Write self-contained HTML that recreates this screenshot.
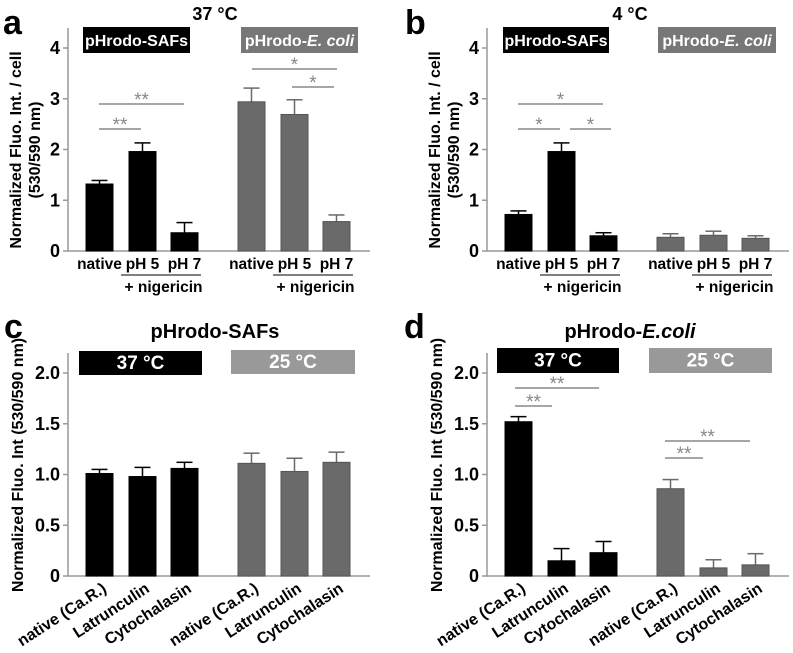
<!DOCTYPE html>
<html><head><meta charset="utf-8"><style>
body{margin:0;background:#fff}
svg{display:block;font-family:"Liberation Sans",sans-serif;font-weight:bold}
</style></head><body>
<svg id="fig" width="793" height="653" viewBox="0 0 793 653"></svg>
<script>
const catsA=["native","pH 5","pH 7","native","pH 5","pH 7"];
const valsA=[1.32,1.96,0.36,2.94,2.69,0.58];
const errsA=[0.07,0.17,0.20,0.27,0.29,0.13];
const valsB=[0.72,1.96,0.30,0.27,0.31,0.25];
const errsB=[0.07,0.17,0.06,0.07,0.08,0.05];
const catsC=["native (Ca.R.)","Latrunculin","Cytochalasin","native (Ca.R.)","Latrunculin","Cytochalasin"];
const valsC=[1.01,0.98,1.06,1.11,1.03,1.12];
const errsC=[0.04,0.09,0.06,0.10,0.13,0.10];
const valsD=[1.52,0.15,0.23,0.86,0.08,0.11];
const errsD=[0.05,0.12,0.11,0.09,0.08,0.11];
const ticksAB=[0,1,2,3,4];
const ticksCD=[0,0.5,1.0,1.5,2.0];
const ticksCDLabels=["0","0.5","1.0","1.5","2.0"];

const NS="http://www.w3.org/2000/svg";
const svg=document.getElementById('fig');
function mk(tag,attrs,parent,text){const e=document.createElementNS(NS,tag);for(const k in attrs)e.setAttribute(k,attrs[k]);if(text!==undefined)e.textContent=text;(parent||svg).appendChild(e);return e;}

function panel(o){
  const g=mk('g',{});
  
  
  const y=v=>o.y0-v*o.unit;
  const barX=[0,43,85,152,195,237].map(d=>o.x0+18+d);
  const bw=27;
  const ax=mk('path',{d:`M${o.x0} ${o.top}V${o.y0}H${o.xEnd}`,stroke:'#999',fill:'none','stroke-width':1.5},g);
  
  
  o.ticks.forEach((t,i)=>{
    mk('line',{x1:o.x0-5,x2:o.x0,y1:y(t),y2:y(t),stroke:'#999','stroke-width':1.5},g);
    const tl=mk('text',{x:o.x0-8,y:y(t)+6,'text-anchor':'end','font-size':18},g,o.tickLabels?o.tickLabels[i]:String(t));
    
    
  });
  o.vals.forEach((v,i)=>{
    const fill=i<3?'#000':'#6a6a6a';
    const cx=barX[i]+bw/2, top=y(v+o.errs[i]);
    mk('line',{x1:cx,x2:cx,y1:y(v),y2:top,stroke:fill,'stroke-width':1.5},g);
    mk('line',{x1:cx-8,x2:cx+8,y1:top,y2:top,stroke:fill,'stroke-width':1.5},g);
    const r=mk('rect',{x:barX[i],y:y(v),width:bw,height:o.y0-y(v),fill:fill,stroke:i<3?'#000':'#555','stroke-width':1},g);
    
    
    if(o.rot){
      const t=mk('text',{x:cx+8,y:o.y0+15,'text-anchor':'end','font-size':16,transform:`rotate(-33 ${cx+8} ${o.y0+15})`},g,o.cats[i]);
      
      
    } else {
      const t=mk('text',{x:cx,y:o.y0+18,'text-anchor':'middle','font-size':15.5},g,o.cats[i]);
      
      
    }
  });
  if(!o.rot){
    [[barX[1],barX[2]],[barX[4],barX[5]]].forEach(p=>{
      mk('line',{x1:p[0]-8,x2:p[1]+bw+3,y1:o.y0+24,y2:o.y0+24,stroke:'#000','stroke-width':1},g);
      const t=mk('text',{x:(p[0]+p[1]+bw)/2,y:o.y0+41,'text-anchor':'middle','font-size':15.5},g,'+ nigericin');
      
      
    });
  }
  o.boxes.forEach(b=>{
    const r=mk('rect',{x:b.x,y:b.y,width:b.w,height:b.h,fill:b.fill},g);
    
    
    const t=mk('text',{x:b.x+b.w/2,y:b.y+b.h/2+6,'text-anchor':'middle','font-size':b.fs,fill:'#fff'},g);
    t.innerHTML=b.html;
    
    
  });
  o.sig.forEach(s=>{
    mk('line',{x1:s[0],x2:s[1],y1:s[2],y2:s[2],stroke:'#888','stroke-width':1.5},g);
    const t=mk('text',{x:(s[0]+s[1])/2,y:s[2]+2,'text-anchor':'middle','font-size':19,fill:'#888','font-weight':'normal'},g,s[3]);
    
    
  });
  const title=mk('text',{x:o.titleX,y:o.titleY,'text-anchor':'middle','font-size':o.titleFs},g);
  title.innerHTML=o.title;
  
  
  const letter=mk('text',{x:o.letterX,y:o.letterY,'font-size':34},g,o.letter);
  
  
  o.ylab.forEach((l,i)=>{
    const t=mk('text',{x:0,y:0,'text-anchor':'middle','font-size':16,transform:`translate(${l[0]} ${l[1]}) rotate(-90)`},g,l[2]);
    
    
  });
}

panel({name:'panel-a',x0:68,y0:251,unit:50.75,top:28,xEnd:370,ticks:ticksAB,vals:valsA,errs:errsA,cats:catsA,rot:false,
  boxes:[{x:83,y:27,w:107,h:26,fill:'#000',fs:16,html:'pHrodo-SAFs'},{x:241,y:27,w:117,h:26,fill:'#777',fs:16,html:'pHrodo-<tspan font-style="italic">E. coli</tspan>'}],
  sig:[[99,141,129,'**'],[99,184,104,'**'],[252,337,69,'*'],[292,334,87,'*']],
  title:'37 °C',titleX:215,titleY:20,titleFs:18,letter:'a',letterX:3,letterY:34,
  ylab:[[21,150,'Normalized Fluo. Int. / cell'],[40,150,'(530/590 nm)']]});
panel({name:'panel-b',x0:487,y0:251,unit:50.75,top:28,xEnd:789,ticks:ticksAB,vals:valsB,errs:errsB,cats:catsA,rot:false,
  boxes:[{x:503,y:27,w:106,h:26,fill:'#000',fs:16,html:'pHrodo-SAFs'},{x:658,y:27,w:118,h:26,fill:'#777',fs:16,html:'pHrodo-<tspan font-style="italic">E. coli</tspan>'}],
  sig:[[518,603,104,'*'],[518,560,129,'*'],[570,611,129,'*']],
  title:'4 °C',titleX:630,titleY:20,titleFs:18,letter:'b',letterX:405,letterY:34,
  ylab:[[440,150,'Normalized Fluo. Int. / cell'],[459,150,'(530/590 nm)']]});
panel({name:'panel-c',x0:68,y0:576,unit:101.5,top:353,xEnd:370,ticks:ticksCD,tickLabels:ticksCDLabels,vals:valsC,errs:errsC,cats:catsC,rot:true,
  boxes:[{x:79,y:351,w:123,h:24,fill:'#000',fs:19,html:'37 °C'},{x:231,y:350,w:124,h:24,fill:'#999',fs:19,html:'25 °C'}],
  sig:[],
  title:'pHrodo-SAFs',titleX:215,titleY:338,titleFs:20,letter:'c',letterX:4,letterY:338,
  ylab:[[23,465,'Normalized Fluo. Int (530/590 nm)']]});
panel({name:'panel-d',x0:487,y0:576,unit:101.5,top:353,xEnd:789,ticks:ticksCD,tickLabels:ticksCDLabels,vals:valsD,errs:errsD,cats:catsC,rot:true,
  boxes:[{x:497,y:348,w:122,h:25,fill:'#000',fs:19,html:'37 °C'},{x:649,y:348,w:123,h:25,fill:'#999',fs:19,html:'25 °C'}],
  sig:[[515,599,388,'**'],[515,552,406,'**'],[665,750,441,'**'],[665,703,458,'**']],
  title:'pHrodo-<tspan font-style="italic">E.coli</tspan>',titleX:630,titleY:338,titleFs:20,letter:'d',letterX:404,letterY:338,
  ylab:[[442,465,'Normalized Fluo. Int (530/590 nm)']]});
</script>
</body></html>
